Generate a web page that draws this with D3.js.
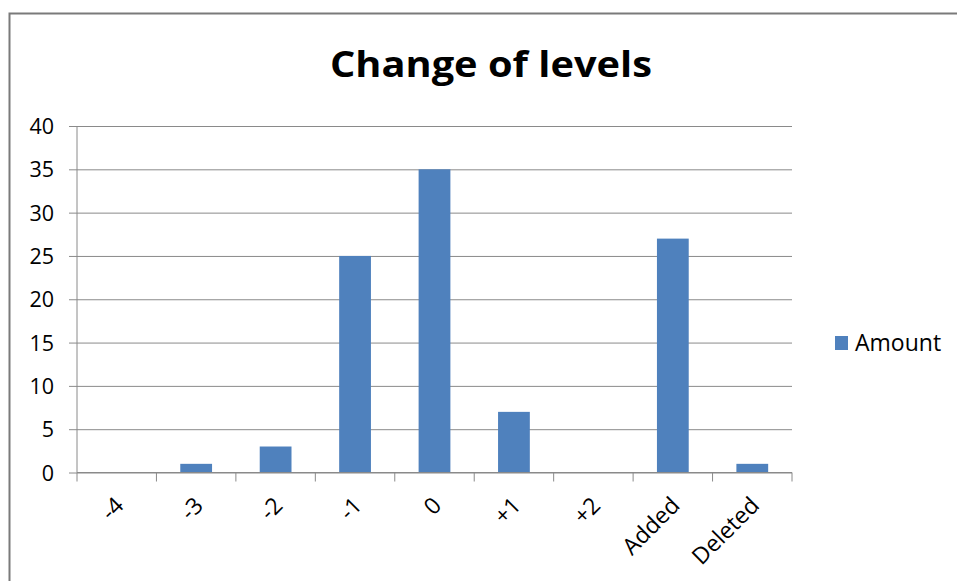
<!DOCTYPE html>
<html>
<head>
<meta charset="utf-8">
<script src="https://cdn.jsdelivr.net/npm/d3@7"></script>
<style>
  html, body { margin: 0; padding: 0; background: #fff; }
  svg { display: block; }
  text { font-family: "Open Sans", "Liberation Sans", sans-serif; fill: #000; }
</style>
</head>
<body>
<svg id="chart" width="957" height="581"></svg>
<script>
// Chart data
const categories = ["-4", "-3", "-2", "-1", "0", "+1", "+2", "Added", "Deleted"];
const amounts = [0, 1, 3, 25, 35, 7, 0, 27, 1];
const yTicks = [0, 5, 10, 15, 20, 25, 30, 35, 40];
const seriesName = "Amount";
const chartTitle = "Change of levels";

const W = 957, H = 581;
const plot = { left: 77, right: 792, top: 126, bottom: 472.5 };
const barColor = "#4F81BD";
const gridColor = "#8a8a8a";

const svg = d3.select("#chart");

// Outer frame of the chart area
svg.append("path")
  .attr("d", `M9.5,${H + 2} L9.5,13.5 L${W + 2},13.5`)
  .attr("fill", "none")
  .attr("stroke", "#7a7a7a")
  .attr("stroke-width", 2);

const x = d3.scaleBand()
  .domain(categories)
  .range([plot.left, plot.right])
  .paddingInner(0.6)
  .paddingOuter(0.3);

const xBand = d3.scaleBand()
  .domain(categories)
  .range([plot.left, plot.right]);

const y = d3.scaleLinear()
  .domain([0, 40])
  .range([plot.bottom, plot.top]);

// Title
svg.append("text")
  .attr("x", 491)
  .attr("y", 77)
  .attr("text-anchor", "middle")
  .attr("font-size", 36)
  .attr("font-weight", "bold")
  .attr("textLength", 322)
  .attr("lengthAdjust", "spacingAndGlyphs")
  .text(chartTitle);

// Horizontal gridlines with y axis ticks and labels
const yAxis = d3.axisLeft(y)
  .tickValues(yTicks)
  .tickSize(-(plot.right - plot.left))
  .tickSizeOuter(0)
  .tickPadding(0);

const gy = svg.append("g")
  .attr("transform", `translate(${plot.left},0)`)
  .call(yAxis);
gy.select(".domain").remove();
gy.selectAll(".tick line")
  .attr("stroke", gridColor)
  .attr("stroke-width", 1)
  .attr("x1", -8);
gy.selectAll(".tick text")
  .attr("x", -23)
  .attr("dy", "0.35em")
  .attr("font-size", 21.5)
  .attr("font-family", "'Open Sans', sans-serif")
  .attr("fill", "#000");

// Vertical axis line
svg.append("line")
  .attr("x1", plot.left).attr("x2", plot.left)
  .attr("y1", y(40)).attr("y2", y(0))
  .attr("stroke", gridColor);

// Bars
svg.append("g")
  .selectAll("rect")
  .data(categories)
  .join("rect")
  .attr("x", d => x(d))
  .attr("width", x.bandwidth())
  .attr("y", (d, i) => y(amounts[i]))
  .attr("height", (d, i) => y(0) - y(amounts[i]))
  .attr("fill", barColor);

// Category axis
const xAxis = d3.axisBottom(xBand).tickSize(0).tickFormat("");
const gx = svg.append("g")
  .attr("transform", `translate(0,${plot.bottom})`)
  .call(xAxis);
gx.select(".domain").attr("stroke", gridColor).attr("d", `M${plot.left},0H${plot.right}`);

// Tick marks between categories
const boundaries = categories.map(c => xBand(c)).concat([plot.right]);
gx.selectAll(".bound")
  .data(boundaries)
  .join("line")
  .attr("class", "bound")
  .attr("x1", d => d).attr("x2", d => d)
  .attr("y1", 0).attr("y2", 9)
  .attr("stroke", gridColor);

// Rotated category labels
svg.append("g")
  .selectAll("text")
  .data(categories)
  .join("text")
  .attr("transform", d => `translate(${xBand(d) + xBand.bandwidth() / 2 + 2},${plot.bottom + 28}) rotate(-45)`)
  .attr("text-anchor", "end")
  .attr("dominant-baseline", "central")
  .attr("font-size", 23)
  .text(d => d);

// Legend
const legend = svg.append("g").attr("transform", "translate(835,336)");
legend.append("rect")
  .attr("width", 13).attr("height", 14)
  .attr("fill", barColor);
legend.append("text")
  .attr("x", 20)
  .attr("y", 7)
  .attr("dy", "0.35em")
  .attr("font-size", 23)
  .text(seriesName);
</script>
</body>
</html>
